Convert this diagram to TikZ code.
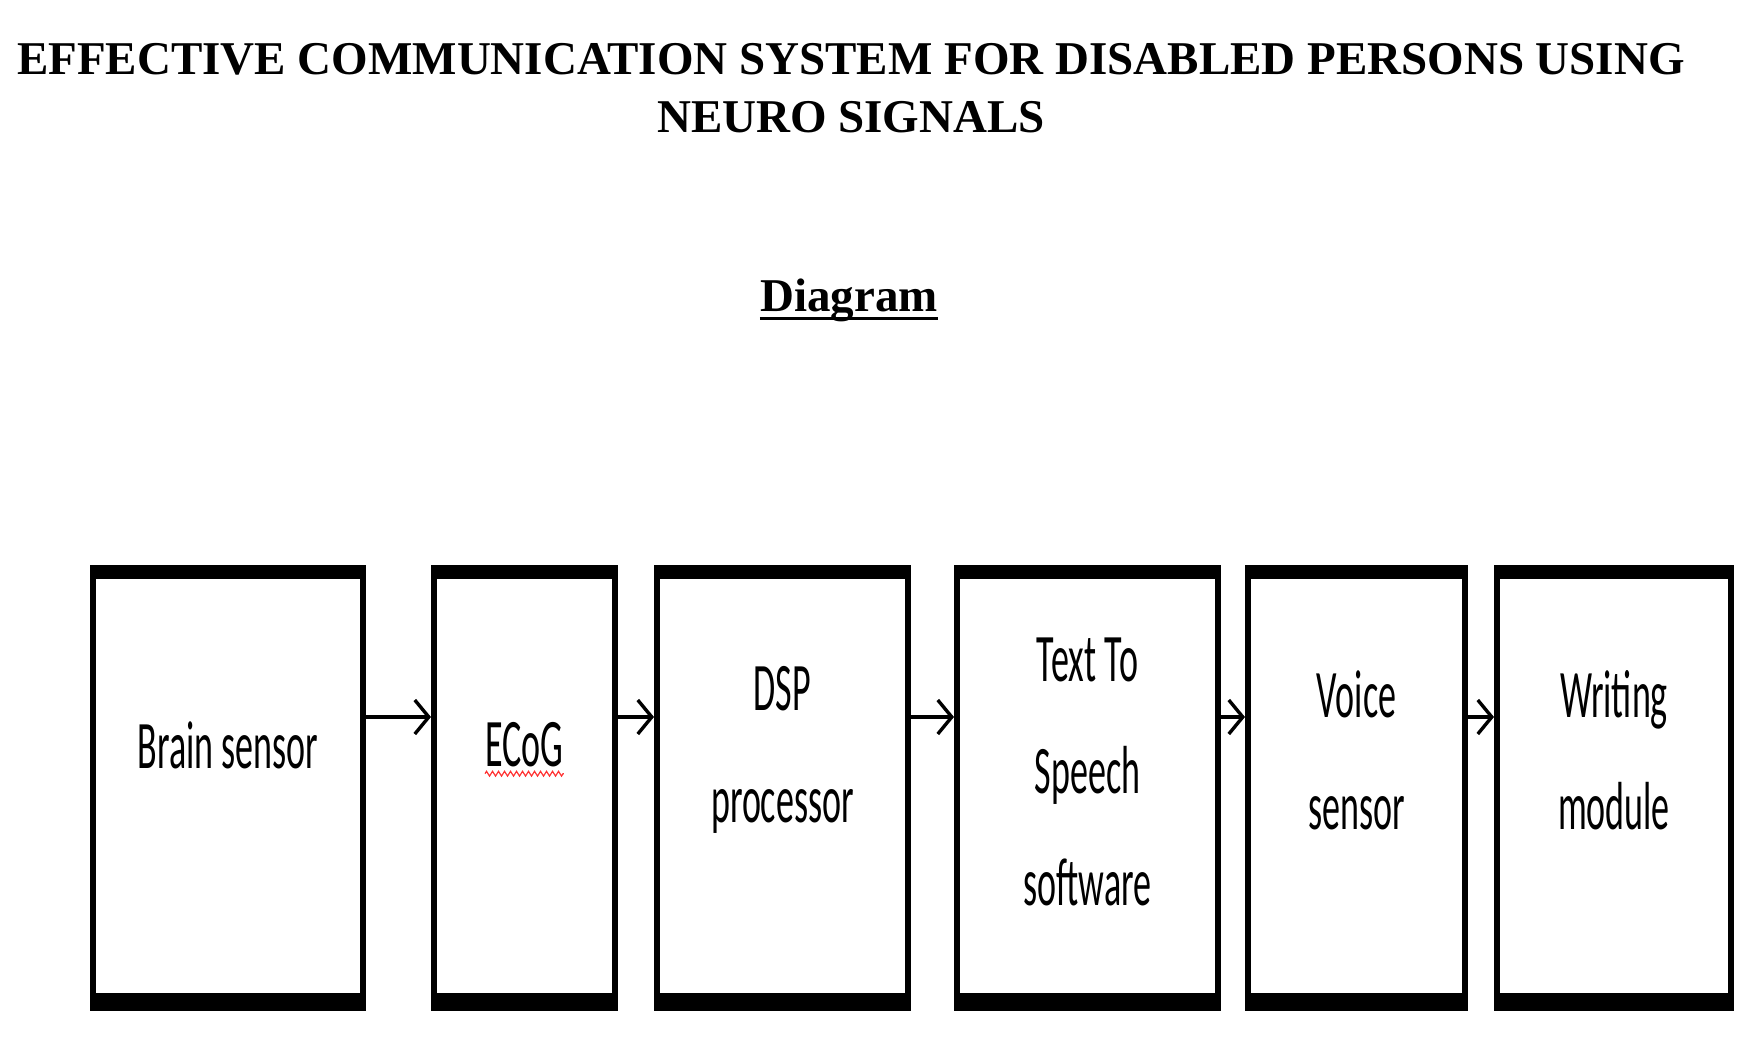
\documentclass[tikz,border=0pt]{standalone}
\usepackage{fontspec}
\setmainfont{Liberation Serif}
\newfontfamily\boxfont[FakeStretch=0.53]{Carlito}
\usetikzlibrary{arrows.meta,positioning,decorations.pathmorphing}
\tikzset{
  blk/.style   = {rectangle, draw, line width=3pt, minimum height=220pt, inner sep=0pt},
  lbl/.style   = {align=center, inner sep=0pt, font=\boxfont\fontsize{34pt}{56pt}\selectfont},
  head/.style  = {align=center, inner sep=0pt, font=\bfseries\fontsize{23.5pt}{29pt}\selectfont},
  flow/.style  = {-{Straight Barb[length=7pt,width=17pt]}, line width=1.7pt},
  squig/.style = {red!80, line width=0.6pt, decorate,
                  decoration={zigzag, amplitude=1.2pt, segment length=3pt}},
}

\begin{document}
\begin{tikzpicture}
    \useasboundingbox (0,0) rectangle (881pt,-529.5pt);
    % heading
    \node[head, anchor=base] (ttl) at (425.5pt,-66.5pt) {EFFECTIVE COMMUNICATION SYSTEM FOR DISABLED PERSONS USING\\NEURO SIGNALS};
    \node[head, anchor=base] (dg) at (424.5pt,-156pt) {Diagram};
    \draw[line width=1.6pt] ([yshift=-3.2pt]dg.base west) -- ([yshift=-3.2pt]dg.base east);
    % blocks
    \node[blk, minimum width=135pt] (bs) at (114pt,-394pt) {};
    \node[blk, minimum width=90.5pt, right=32.5pt of bs] (ecog) {};
    \node[blk, minimum width=125.5pt, right=18pt of ecog] (dsp) {};
    \node[blk, minimum width=130.5pt, right=21.5pt of dsp] (tts) {};
    \node[blk, minimum width=108.5pt, right=12pt of tts] (vs) {};
    \node[blk, minimum width=117pt, right=13pt of vs] (wm) {};
    \foreach \b in {bs,ecog,dsp,tts,vs,wm}{
      \fill (\b.north west) rectangle ([yshift=-7pt]\b.north east);
      \fill ([yshift=9pt]\b.south west) rectangle (\b.south east);
    }
    % labels
    \node[lbl] (bs-t) at ([yshift=21.5pt]bs.center) {Brain sensor};
    \node[lbl] (ecog-t) at ([yshift=21.5pt]ecog.center) {ECoG};
    \node[lbl] (dsp-t) at ([yshift=19pt]dsp.center) {DSP\\processor};
    \node[lbl] (tts-t) at ([yshift=8pt]tts.center) {Text To\\Speech\\software};
    \node[lbl] (vs-t) at ([yshift=19pt]vs.center) {Voice\\sensor};
    \node[lbl] (wm-t) at ([yshift=19pt]wm.center) {Writing\\module};
    \draw[squig] ([yshift=-3pt]ecog-t.south west) -- ([yshift=-3pt]ecog-t.south east);
    % arrows
    \foreach \a/\b in {bs/ecog,ecog/dsp,dsp/tts,tts/vs,vs/wm}
      \draw[flow] ([yshift=35.5pt]\a.east) -- ([yshift=35.5pt]\b.west);
\end{tikzpicture}
\end{document}
